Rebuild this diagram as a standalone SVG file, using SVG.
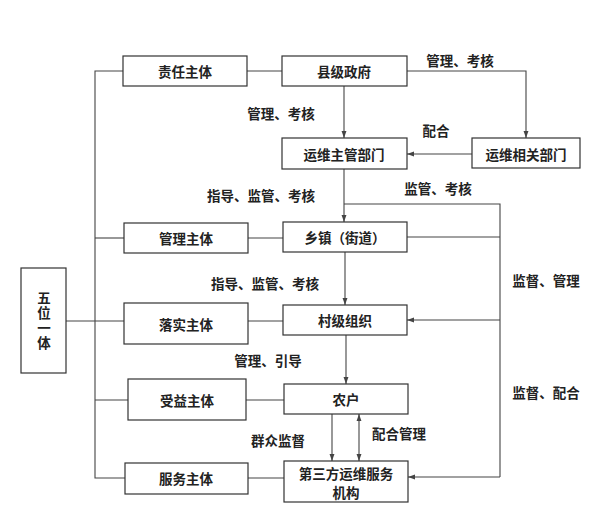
<svg xmlns="http://www.w3.org/2000/svg" width="597" height="513" viewBox="0 0 597 513">
<style>
.box{fill:#fff;stroke:#333;stroke-width:1.2}
.ln{fill:none;stroke:#444;stroke-width:1.1}
text{font-family:"Noto Sans CJK SC","Noto Sans",sans-serif;font-weight:bold;font-size:13.5px;fill:#222;text-anchor:middle;dominant-baseline:central}
.vt{writing-mode:vertical-rl;letter-spacing:1.5px}
</style>
<defs>
<marker id="ah" viewBox="0 0 10 10" refX="10" refY="5" markerWidth="7" markerHeight="7" orient="auto-start-reverse" markerUnits="userSpaceOnUse">
<path d="M0,1.5 L10,5 L0,8.5 Z" fill="#444"/>
</marker>
</defs>
<rect width="597" height="513" fill="#fff"/>
<g id="connectors">
<polyline class="ln" points="123,71 95,71 95,478 125,478"/>
<line class="ln" x1="66" y1="321" x2="124" y2="321"/>
<line class="ln" x1="95" y1="238" x2="124" y2="238"/>
<line class="ln" x1="95" y1="400" x2="128" y2="400"/>
<line class="ln" x1="247" y1="71" x2="282" y2="71"/>
<line class="ln" x1="248" y1="238" x2="283" y2="238"/>
<line class="ln" x1="248" y1="321" x2="283" y2="321"/>
<line class="ln" x1="246" y1="400" x2="284" y2="400"/>
<line class="ln" x1="248" y1="478" x2="284" y2="478"/>
<line class="ln" x1="344" y1="86" x2="344" y2="138" marker-end="url(#ah)"/>
<polyline class="ln" points="407,71 526,71 526,138" marker-end="url(#ah)"/>
<line class="ln" x1="472" y1="154" x2="407" y2="154" marker-end="url(#ah)"/>
<line class="ln" x1="344" y1="169" x2="344" y2="222" marker-end="url(#ah)"/>
<polyline class="ln" points="344,204 500,204 500,477"/>
<line class="ln" x1="407" y1="237" x2="500" y2="237"/>
<line class="ln" x1="500" y1="320" x2="407" y2="320" marker-end="url(#ah)"/>
<line class="ln" x1="500" y1="477" x2="408" y2="477" marker-end="url(#ah)"/>
<line class="ln" x1="345" y1="252" x2="345" y2="305" marker-end="url(#ah)"/>
<line class="ln" x1="346" y1="335" x2="346" y2="384" marker-end="url(#ah)"/>
<line class="ln" x1="332" y1="414" x2="332" y2="461" marker-end="url(#ah)"/>
<line class="ln" x1="359" y1="414" x2="359" y2="461" marker-start="url(#ah)" marker-end="url(#ah)"/>
</g>
<g id="labels">
<text x="460" y="60">管理、考核</text>
<text x="281" y="113">管理、考核</text>
<text x="436" y="130">配合</text>
<text x="438" y="188">监管、考核</text>
<text x="261" y="195">指导、监管、考核</text>
<text x="265" y="283">指导、监管、考核</text>
<text x="546" y="280">监督、管理</text>
<text x="268" y="360">管理、引导</text>
<text x="546" y="392">监督、配合</text>
<text x="278" y="440">群众监督</text>
<text x="399" y="433">配合管理</text>
</g>
<g id="n-wuwei"><rect class="box" x="21" y="268" width="45" height="105"/>
<text class="vt" x="44" y="321">五位一体</text></g>
<g id="n-zeren"><rect class="box" x="123" y="56" width="124" height="30"/><text x="185" y="71">责任主体</text></g>
<g id="n-xianji"><rect class="box" x="282" y="56" width="125" height="30"/><text x="344" y="71">县级政府</text></g>
<g id="n-zhuguan"><rect class="box" x="282" y="138" width="125" height="31"/><text x="344" y="154">运维主管部门</text></g>
<g id="n-xiangguan"><rect class="box" x="472" y="138" width="108" height="30"/><text x="526" y="154">运维相关部门</text></g>
<g id="n-guanli"><rect class="box" x="124" y="223" width="124" height="30"/><text x="186" y="238">管理主体</text></g>
<g id="n-xiangzhen"><rect class="box" x="283" y="222" width="124" height="30"/><text x="345" y="237">乡镇（街道）</text></g>
<g id="n-luoshi"><rect class="box" x="124" y="303" width="124" height="41"/><text x="186" y="324">落实主体</text></g>
<g id="n-cunji"><rect class="box" x="283" y="305" width="124" height="30"/><text x="345" y="320">村级组织</text></g>
<g id="n-shouyi"><rect class="box" x="128" y="379" width="118" height="41"/><text x="187" y="400">受益主体</text></g>
<g id="n-nonghu"><rect class="box" x="284" y="384" width="124" height="30"/><text x="346" y="399">农户</text></g>
<g id="n-fuwu"><rect class="box" x="125" y="463" width="123" height="31"/><text x="186" y="478">服务主体</text></g>
<g id="n-disanfang"><rect class="box" x="284" y="461" width="124" height="41"/><text x="346" y="473">第三方运维服务</text><text x="346" y="492">机构</text></g>
</svg>
